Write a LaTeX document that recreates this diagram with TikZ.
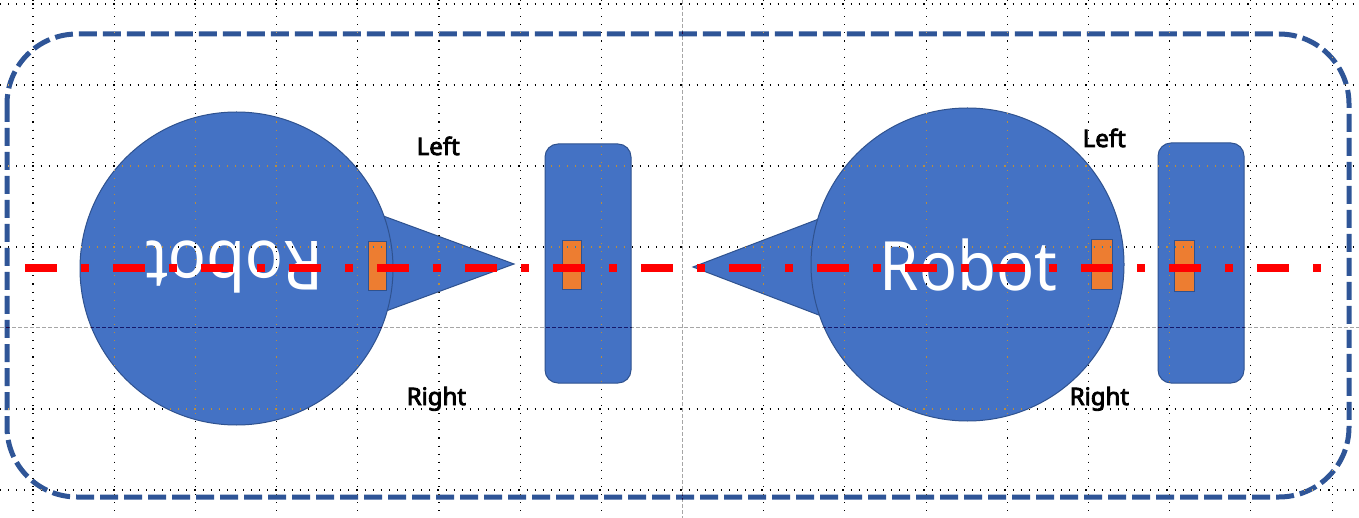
\documentclass[tikz,border=0pt]{standalone}
\usepackage{fontspec}
\newfontfamily\lblfont{Noto Sans}
\newfontfamily\lblboldfont{Noto Sans}[FakeBold=3.5]
\definecolor{bodyblue}{HTML}{4472C4}
\definecolor{edgeblue}{HTML}{2F528F}
\definecolor{borderblue}{HTML}{2F5597}
\definecolor{markorange}{HTML}{ED7D31}
\definecolor{axisred}{HTML}{FF0000}
\definecolor{guidegray}{HTML}{595959}
\tikzset{
  bodyshape/.style={fill=bodyblue, draw=edgeblue, line width=1pt},
  bodycircle/.style={bodyshape, circle, inner sep=0pt, minimum size=313pt},
  wheelbox/.style={bodyshape, rounded corners=13pt},
  markbox/.style={fill=markorange, draw=edgeblue, line width=1pt},
  robottext/.style={text=white, inner sep=0pt, font=\lblfont\fontsize{68}{68}\selectfont, xscale=0.93},
  sidelabel/.style={text=black, inner sep=0pt, font=\lblboldfont\fontsize{24}{24}\selectfont},
  gridline/.style={white, line width=1.1pt, dash pattern=on 1.1pt off 7pt},
  guideline/.style={guidegray, line width=1pt, dash pattern=on 4pt off 2pt},
  axisline/.style={axisred, line width=8pt, dash pattern=on 32pt off 24pt on 8pt off 24pt},
  framebox/.style={borderblue, line width=5pt, dash pattern=on 18pt off 6pt, rounded corners=70pt}
}
\begin{document}
\begin{tikzpicture}[x=1pt,y=-1pt]
\useasboundingbox (0,0) rectangle (1359,518);
\fill[white] (0,0) rectangle (1359,518);
% frame
\draw[framebox] (7,34) rectangle (1349,497);
% triangles (behind bodies)
\draw[bodyshape] (300,185.4) -- (514,264) -- (300,342.6) -- cycle;
\draw[bodyshape] (900,188) -- (693,267) -- (900,346) -- cycle;
% bodies
\node[bodycircle] (bodyL) at (236.5,268.5) {};
\node[bodycircle] (bodyR) at (967.5,264.5) {};
% wheels
\draw[wheelbox] (545,144) rectangle (631,383);
\node[inner sep=0pt] (wheelL) at (588,263.5) {};
\draw[wheelbox] (1158,143) rectangle (1244,383);
\node[inner sep=0pt] (wheelR) at (1201,263) {};
% orange marks
\draw[markbox] (368,242) rectangle (386,291);
\draw[markbox] (562,241) rectangle (581,290);
\draw[markbox] (1091,240) rectangle (1112,290);
\draw[markbox] (1174,241) rectangle (1194,292);
% robot texts
\node[robottext, anchor=base, rotate=180] (robotL) at (234.5,242) {Robot};
\node[robottext, anchor=base] (robotR) at (968.5,291) {Robot};
% grid (inverted over shapes)
\begin{scope}[blend mode=difference]
\foreach \i in {0,...,16}{
  \ifnum\i=8\relax\else
    \draw[gridline] ({33+81.19*\i},0) -- ({33+81.19*\i},518);
  \fi
}
\foreach \j in {0,1,2,3,5,6}{
  \draw[gridline] (0,{4+81*\j}) -- (1359,{4+81*\j});
}
\draw[guideline] (682.5,0) -- (682.5,518);
\draw[guideline] (0,328) -- (1359,328);
\end{scope}
% labels
\node[sidelabel, anchor=base west] (leftL) at (416.5,155) {Left};
\node[sidelabel, anchor=base west] (rightL) at (406.5,405) {Right};
\node[sidelabel, anchor=base west] (leftR) at (1082.5,147) {Left};
\node[sidelabel, anchor=base west] (rightR) at (1069.5,405) {Right};
% axis line
\coordinate (axisStart) at (25,268);
\coordinate (axisEnd) at (1321,268);
\draw[axisline] (axisStart) -- (axisEnd);
\end{tikzpicture}
\end{document}
